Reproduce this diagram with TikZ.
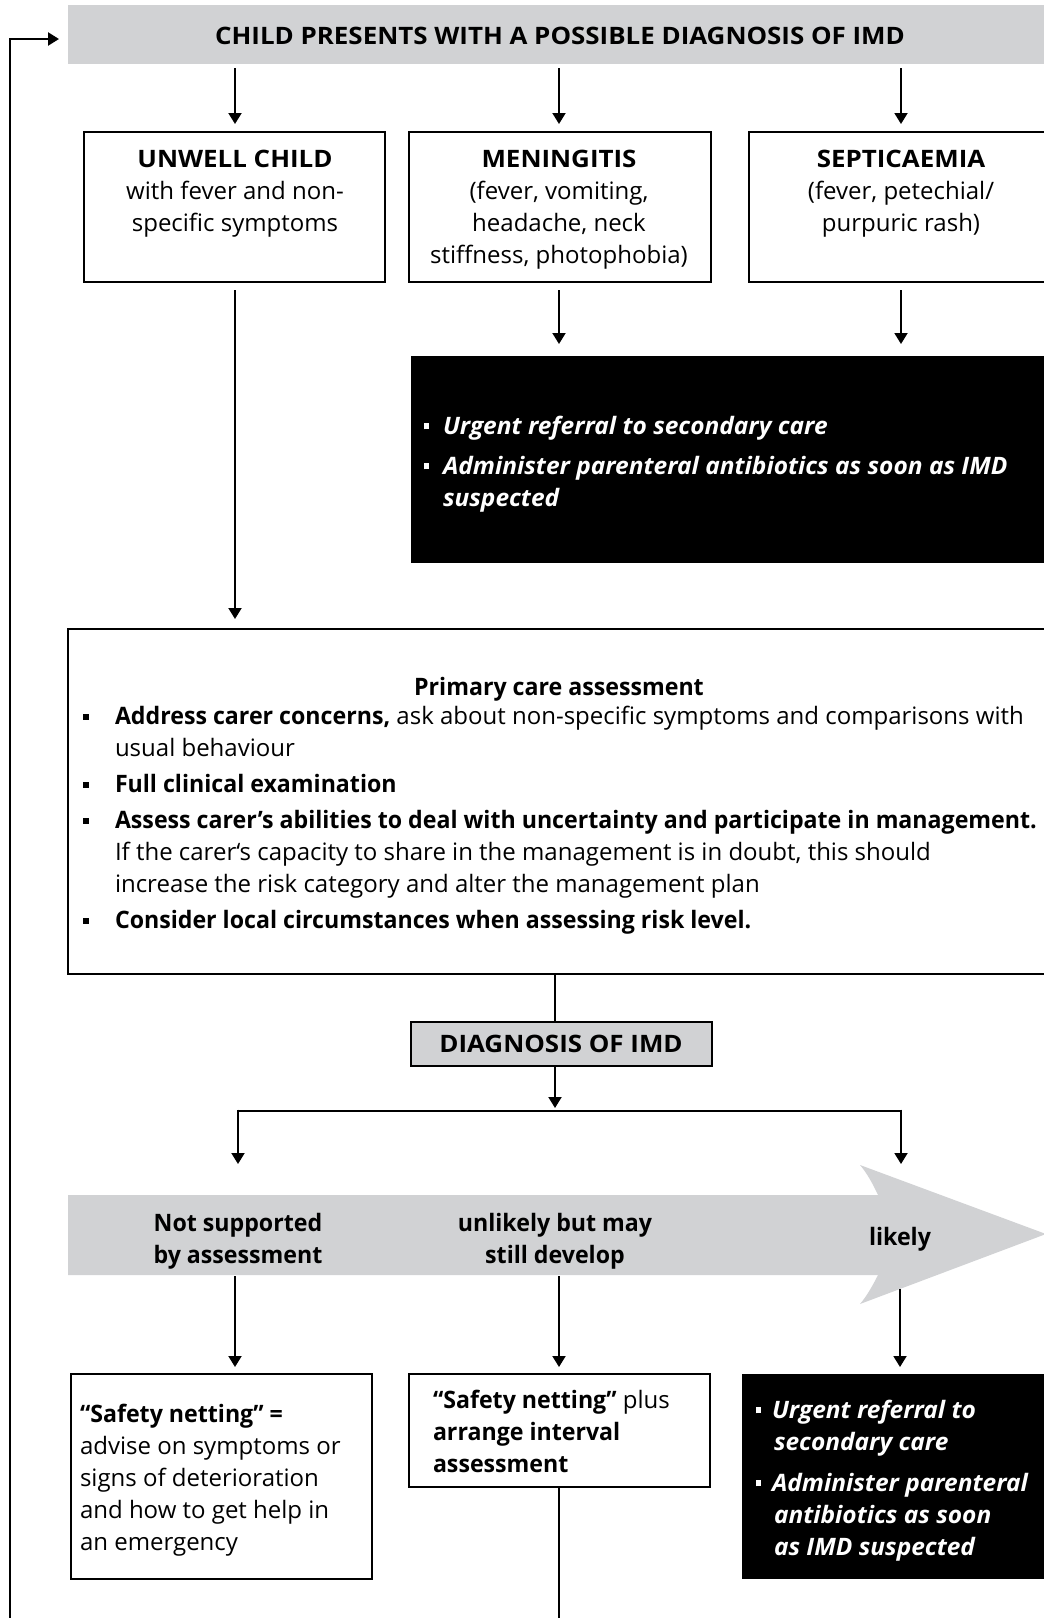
\documentclass[tikz,border=0pt]{standalone}
\usepackage{fontspec}
\setmainfont{Open Sans}[BoldFeatures={FakeStretch=0.965}, BoldItalicFeatures={FakeStretch=1.02}]
\newfontfamily\capsfont{Open Sans}[BoldFeatures={FakeStretch=1.08}]
\usetikzlibrary{arrows.meta,calc}
\definecolor{lgray}{RGB}{209,210,212}
\newcommand{\bsq}{\rule[4pt]{6pt}{6pt}}
\newcommand{\wsq}{\rule[5pt]{5pt}{6pt}}
\begin{document}
\begin{tikzpicture}[x=1pt,y=-1pt,
  every node/.style={inner sep=0pt, outer sep=0pt, font=\fontsize{24}{32}\selectfont},
  box/.style={draw, line width=1.5pt, fill=white, anchor=north west},
  blackbox/.style={fill=black, anchor=north west},
  graybox/.style={fill=lgray, anchor=north west},
  conn/.style={line width=1.9pt, -{Triangle[width=13pt,length=11pt]}},
  plain/.style={line width=1.9pt},
  capstext/.style={font=\fontsize{24}{32}\selectfont\capsfont\bfseries},
  boldtext/.style={font=\fontsize{24}{32}\selectfont\bfseries},
  wtext/.style={text=white, font=\fontsize{24}{32}\selectfont\bfseries\itshape, align=left},
]
\useasboundingbox (0,0) rectangle (1044,1618);
\begin{scope}
\clip (0,0) rectangle (1044,1618);
% banner
\node[graybox, minimum width=1000pt, minimum height=59pt] (top) at (68,5) {};
\node[capstext] (toptext) at (560,36) {CHILD PRESENTS WITH A POSSIBLE DIAGNOSIS OF IMD};
% columns
\coordinate (c1) at (235,0);
\coordinate (c2) at (559,0);
\coordinate (c3) at (901,0);
\coordinate (cd) at (555,0);
% first row boxes
\node[box, minimum width=301pt, minimum height=150pt] (b1) at (84,132) {};
\node[box, minimum width=302pt, minimum height=150pt] (b2) at (409,132) {};
\node[box, minimum width=320pt, minimum height=150pt] (b3) at (749,132) {};
\node[anchor=north, align=center] (b1t) at (235,150) {{\capsfont\bfseries UNWELL CHILD}\\with fever and non-\\specific symptoms};
\node[anchor=north, align=center] (b2t) at (559,150) {{\capsfont\bfseries MENINGITIS}\\(fever, vomiting,\\headache, neck\\stiffness, photophobia)};
\node[anchor=north, align=center] (b3t) at (901,150) {{\capsfont\bfseries SEPTICAEMIA}\\(fever, petechial/\\purpuric rash)};
\draw[conn] ($(top.south -| c1)+(0,4)$) -- ($(b1.north -| c1)+(0,-8)$);
\draw[conn] ($(top.south -| c2)+(0,4)$) -- ($(b2.north -| c2)+(0,-8)$);
\draw[conn] ($(top.south -| c3)+(0,4)$) -- ($(b3.north -| c3)+(0,-8)$);
% feedback line
\coordinate (fbstart) at (10,1630);
\coordinate (fbend) at (59,39);
\draw[line width=2.3pt, -{Triangle[width=13pt,length=11pt]}] (fbstart) |- (fbend);
% black box 1
\node[blackbox, minimum width=650pt, minimum height=207pt] (urg) at (411,356) {};
\node[wtext, anchor=north west] (urgt) at (424,416) {\wsq\hspace{14pt}Urgent referral to secondary care\\[8pt]
\wsq\hspace{14pt}Administer parenteral antibiotics as soon as IMD\\
\hspace*{19pt}suspected};
\draw[conn] ($(b2.south -| c2)+(0,8)$) -- ($(urg.north -| c2)+(0,-12)$);
\draw[conn] ($(b3.south -| c3)+(0,8)$) -- ($(urg.north -| c3)+(0,-12)$);
% primary care box
\node[box, minimum width=1000pt, minimum height=345pt] (prim) at (68,629) {};
\draw[conn] ($(b1.south -| c1)+(0,8)$) -- ($(prim.north -| c1)+(0,-10)$);
\node[anchor=base, boldtext] (primtitle) at (559,695) {Primary care assessment};
\node[anchor=north west, align=left] (primlist) at (83,706) {\makebox[32pt][l]{\bsq}\textbf{Address carer concerns,} ask about non-specific symptoms and comparisons with\\
\hspace*{32pt}usual behaviour\\[4pt]
\makebox[32pt][l]{\bsq}\textbf{Full clinical examination}\\[4pt]
\makebox[32pt][l]{\bsq}\textbf{Assess carer’s abilities to deal with uncertainty and participate in management.}\\
\hspace*{32pt}If the carer‘s capacity to share in the management is in doubt, this should\\
\hspace*{32pt}increase the risk category and alter the management plan\\[4pt]
\makebox[32pt][l]{\bsq}\textbf{Consider local circumstances when assessing risk level.}};
% diagnosis
\node[box, fill=lgray, minimum width=301pt, minimum height=44pt] (diag) at (411,1022) {};
\node[capstext] (diagt) at (561,1044) {DIAGNOSIS OF IMD};
\draw[plain] (prim.south -| cd) -- (diag.north -| cd);
\coordinate (brc) at (555,1111);
\coordinate (brl) at (238,1111);
\coordinate (brr) at (901,1111);
\draw[conn] (diag.south -| cd) -- ($(brc)+(0,-3)$);
\draw[line width=2.6pt] (brl) -- (brr);
\draw[conn] ($(brl)+(0,-1.3)$) -- (238,1164);
\draw[conn] ($(brr)+(0,-1.3)$) -- (901,1164);
% big arrow
\fill[lgray] (68,1195) -- (878,1195) .. controls (872,1182) and (866,1172) .. (860,1165) -- (1046,1234) -- (860,1304) .. controls (866,1297) and (872,1287) .. (878,1275) -- (68,1275) -- cycle;
\node[anchor=north, align=center, boldtext] (lvl1) at (238,1213) {Not supported\\by assessment};
\node[anchor=north, align=center, boldtext] (lvl2) at (555,1213) {unlikely but may\\still develop};
\node[boldtext] (lvl3) at (900,1239) {likely};
% bottom row
\node[box, minimum width=301pt, minimum height=205pt] (sn) at (71,1374) {};
\node[box, minimum width=301pt, minimum height=113pt] (sni) at (409,1374) {};
\node[blackbox, minimum width=320pt, minimum height=205pt] (urg2) at (742,1374) {};
\coordinate (a1) at (235,1276);
\coordinate (a2) at (559,1276);
\coordinate (a3) at (900,1289);
\draw[conn] (a1) -- ($(sn.north -| a1)+(0,-7)$);
\draw[conn] (a2) -- ($(sni.north -| a2)+(0,-7)$);
\draw[conn] (a3) -- ($(urg2.north -| a3)+(0,-7)$);
\node[anchor=north west, align=left] (snt) at (80,1404) {\textbf{“Safety netting” =}\\advise on symptoms or\\signs of deterioration\\and how to get help in\\an emergency};
\node[anchor=north west, align=left] (snit) at (433,1390) {\textbf{“Safety netting”} plus\\\textbf{arrange interval}\\\textbf{assessment}};
\node[wtext, anchor=north west] (urg2t) at (756,1400) {\wsq\hspace{11pt}Urgent referral to\\
\hspace*{18pt}secondary care\\[9pt]
\wsq\hspace{11pt}Administer parenteral\\
\hspace*{18pt}antibiotics as soon\\
\hspace*{18pt}as IMD suspected};
\coordinate (bottomend) at (559,1630);
\draw[plain] (sni.south -| a2) -- (bottomend);
\end{scope}
\end{tikzpicture}
\end{document}
